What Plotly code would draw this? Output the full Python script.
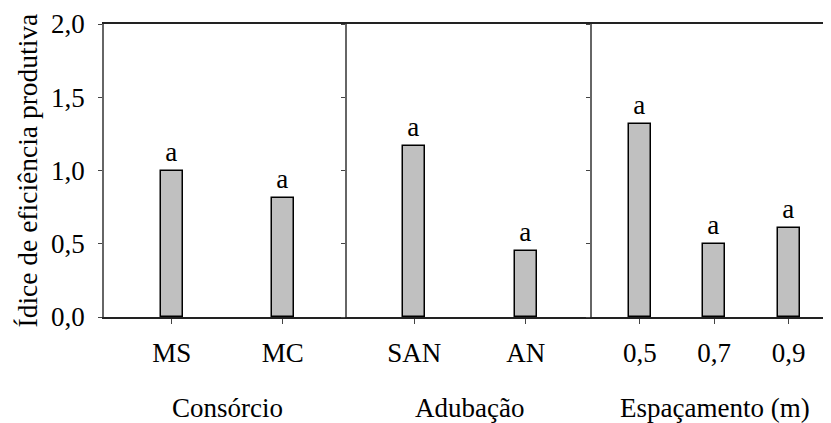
import plotly.graph_objects as go

# Data
cons_cats = ["MS", "MC"]
cons_vals = [1.00, 0.81]
adub_cats = ["SAN", "AN"]
adub_vals = [1.17, 0.45]
esp_cats = ["0,5", "0,7", "0,9"]
esp_vals = [1.32, 0.50, 0.61]
letters_cons = ["a", "a"]
letters_adub = ["a", "a"]
letters_esp = ["a", "a", "a"]
group_titles = ["Consórcio", "Adubação", "Espaçamento (m)"]
y_ticks = [0, 0.5, 1.0, 1.5, 2.0]

FONT = "Liberation Serif, Times New Roman, serif"
FS = 27
OFF = 8  # default page body margin
W, H = 831 - OFF, 423 - OFF
ml, mr, mt, mb = 104 - OFF, 0, 24 - OFF, 106
pw = W - ml - mr

# panel pixel boundaries (page coords)
b1, b2 = 347, 592
d1 = (b1 - 104) / pw
d2 = (b2 - 104) / pw

groups = [
    (cons_cats, cons_vals, letters_cons, [-0.611, 1.578], 0.198),
    (adub_cats, adub_vals, letters_adub, [-0.604, 1.595], 0.198),
    (esp_cats, esp_vals, letters_esp, [-0.642, 2.569], 0.296),
]
domains = [[0, d1], [d1, d2], [d2, 1]]
title_shift = [2, 0, 3]

fig = go.Figure()
for i, (cats, vals, lets, rng, bw) in enumerate(groups):
    n = "" if i == 0 else str(i + 1)
    xs = list(range(len(cats)))
    fig.add_trace(go.Bar(
        x=xs, y=vals, width=bw, text=lets, textposition="outside",
        constraintext="none", cliponaxis=False,
        textfont=dict(family=FONT, size=FS, color="black"),
        marker=dict(color="#c0c0c0", line=dict(color="black", width=1.5)),
        xaxis="x" + n, yaxis="y" + n, showlegend=False,
    ))
    fig.update_layout(**{
        "xaxis" + n: dict(
            domain=domains[i], range=rng, tickvals=xs, ticktext=cats,
            showline=True, linecolor="#222", linewidth=1.5, mirror=True,
            ticks="outside", ticklen=5, tickcolor="#444", tickwidth=1,
            ticklabelstandoff=6, showgrid=False, zeroline=False,
            tickfont=dict(family=FONT, size=FS, color="black"),
            anchor="y" + n, fixedrange=True,
        ),
        "yaxis" + n: dict(
            domain=[0, 1], range=[0, 2.0], tickvals=y_ticks,
            tickformat=".1f", showticklabels=(i == 0),
            showline=True, linecolor="#666", linewidth=1.5,
            ticks="outside", ticklen=4, tickcolor="#444", tickwidth=1,
            ticklabelstandoff=8, showgrid=False, zeroline=False,
            tickfont=dict(family=FONT, size=FS, color="black"),
            anchor="x" + n, fixedrange=True,
        ),
    })
    fig.add_annotation(
        text=group_titles[i], xref="x" + n + " domain", yref="paper",
        x=0.5, y=0, yshift=-91, xshift=title_shift[i],
        xanchor="center", yanchor="middle",
        showarrow=False, font=dict(family=FONT, size=FS, color="black"),
    )

fig.add_annotation(
    text="Ídice de eficiência produtiva", textangle=-90,
    xref="paper", yref="paper", x=0, y=0.5, xshift=-(104 - 27),
    xanchor="center", yanchor="middle", showarrow=False,
    font=dict(family=FONT, size=27.5, color="black"),
)

fig.update_layout(
    width=W, height=H, separators=",.",
    margin=dict(l=ml, r=mr, t=mt, b=mb),
    plot_bgcolor="white", paper_bgcolor="white",
    bargap=0,
)
fig.write_html("out.html")
